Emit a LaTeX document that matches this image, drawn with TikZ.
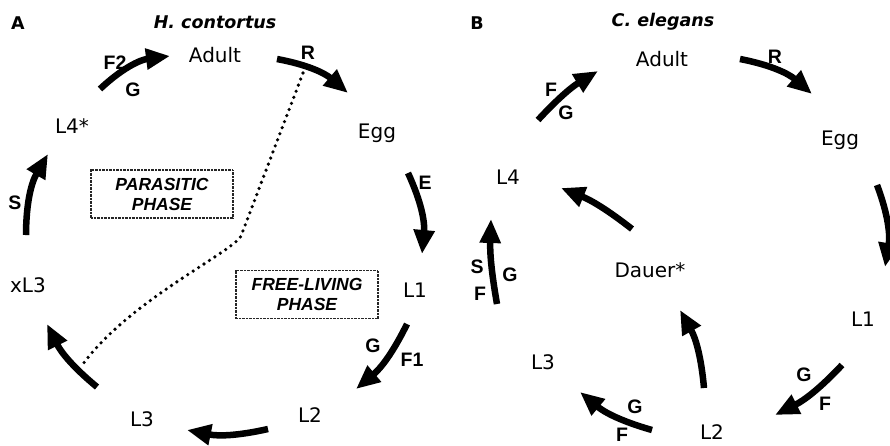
\documentclass[tikz,border=0pt]{standalone}
\usepackage{fontspec}
\setmainfont{DejaVu Sans}
\newfontfamily\boxfont{Liberation Sans}
\usetikzlibrary{arrows.meta}
\tikzset{
 stage/.style={font=\fontsize{20}{22}\selectfont, inner sep=0pt},
 tag/.style={font=\boxfont\bfseries\fontsize{19.5}{21}\selectfont, inner sep=0pt},
 titletext/.style={font=\bfseries\itshape\fontsize{17.5}{20}\selectfont, inner sep=0pt},
 panel/.style={font=\bfseries\fontsize{17.5}{20}\selectfont, inner sep=0pt},
 phase/.style={draw=black!85, line width=1.8pt, dash pattern=on 0.8pt off 0.6pt, font=\boxfont\bfseries\itshape\fontsize{17.5}{20}\selectfont, align=center, minimum width=142pt, minimum height=48pt, inner sep=0pt},
 cyc/.style={line width=6.5pt, -{Triangle[length=24pt,width=20pt]}},
 sep/.style={line width=3.6pt, line cap=round, dash pattern=on 0pt off 6.5pt},
}
\begin{document}
\begin{tikzpicture}[x=1pt,y=-1pt]
\useasboundingbox (0,0) rectangle (890,445);
% ---------- Panel A ----------
\node[panel] (pA) at (18,23) {A};
\node[titletext] (tA) at (215,22) {H. contortus};
\node[stage] (adultA) at (215,55) {Adult};
\node[stage] (eggA) at (377,133) {Egg};
\node[stage] (l1A) at (415,290) {L1};
\node[stage] (l2A) at (310,415) {L2};
\node[stage] (l3A) at (142,419) {L3};
\node[stage] (xl3A) at (28,285) {xL3};
\node[stage] (l4A) at (72,126) {L4*};
\node[phase] (parA) at (162,194) {PARASITIC\\PHASE};
\node[phase] (freeA) at (307,294.5) {FREE-LIVING\\PHASE};
% arrow end points
\coordinate (a1s) at (100,89);  \coordinate (a1e) at (170,56);
\coordinate (a2s) at (277,59);  \coordinate (a2e) at (348,93);
\coordinate (a3s) at (408,173); \coordinate (a3e) at (422,254);
\coordinate (a4s) at (407,324); \coordinate (a4e) at (356,389);
\coordinate (a5s) at (268,429); \coordinate (a5e) at (187,430);
\coordinate (a6s) at (97,387);  \coordinate (a6e) at (47,324);
\coordinate (a7s) at (26,235);  \coordinate (a7e) at (48,154);
\draw[cyc] (a1s) to[bend left=18] (a1e);
\draw[cyc] (a2s) to[bend left=15] (a2e);
\draw[cyc] (a3s) to[bend left=15] (a3e);
\draw[cyc] (a4s) to[bend left=12] (a4e);
\draw[cyc] (a5s) to[bend left=12] (a5e);
\draw[cyc] (a6s) to[bend left=12] (a6e);
\draw[cyc] (a7s) to[bend left=15] (a7e);
\node[tag] (f2A) at (115,63) {F2};
\node[tag] (g1A) at (133,90) {G};
\node[tag] (rA) at (308,53) {R};
\node[tag] (eA) at (425,183) {E};
\node[tag] (g2A) at (373,346) {G};
\node[tag] (f1A) at (412,360) {F1};
\node[tag] (sA) at (15,203) {S};
% dotted separator
\coordinate (d1) at (303,73);
\coordinate (d2) at (241,236);
\coordinate (d3) at (83,364);
\draw[sep] (d1) -- (d2) .. controls (233,252) and (130,300) .. (d3);
% ---------- Panel B ----------
\node[panel] (pB) at (477,23) {B};
\node[titletext] (tB) at (663,22) {C. elegans};
\node[stage] (adultB) at (662,59) {Adult};
\node[stage] (eggB) at (840,140) {Egg};
\node[stage] (l1B) at (863,319) {L1};
\node[stage] (l2B) at (712,432) {L2};
\node[stage] (l3B) at (543,362) {L3};
\node[stage] (l4B) at (508,177) {L4};
\node[stage] (dauerB) at (650,270) {Dauer*};
\coordinate (b1s) at (538,120); \coordinate (b1e) at (598,71);
\coordinate (b2s) at (740,59);  \coordinate (b2e) at (812,94);
\coordinate (b3s) at (877,185); \coordinate (b3e) at (885,267);
\coordinate (b4s) at (842,365); \coordinate (b4e) at (775,415);
\coordinate (b5s) at (652,430); \coordinate (b5e) at (580,392);
\coordinate (b6s) at (704,388); \coordinate (b6e) at (680,310);
\coordinate (b7s) at (632,229); \coordinate (b7e) at (561,188);
\coordinate (b8s) at (497,304); \coordinate (b8e) at (491,219);
\draw[cyc] (b1s) to[bend left=8] (b1e);
\draw[cyc] (b2s) to[bend left=15] (b2e);
\draw[cyc] (b3s) to[bend left=15] (b3e);
\draw[cyc] (b4s) to[bend left=10] (b4e);
\draw[cyc] (b5s) to[bend left=12] (b5e);
\draw[cyc] (b6s) to[bend right=12] (b6e);
\draw[cyc] (b7s) to[bend right=8] (b7e);
\draw[cyc] (b8s) to[bend left=6] (b8e);
\node[tag] (fB1) at (551,90) {F};
\node[tag] (gB1) at (566,113) {G};
\node[tag] (rB) at (775,57) {R};
\node[tag] (sB) at (477,267) {S};
\node[tag] (gB2) at (510,275) {G};
\node[tag] (fB2) at (480,294) {F};
\node[tag] (gB3) at (635,407) {G};
\node[tag] (fB3) at (622,435) {F};
\node[tag] (gB4) at (804,375) {G};
\node[tag] (fB4) at (825,404) {F};
\end{tikzpicture}
\end{document}
